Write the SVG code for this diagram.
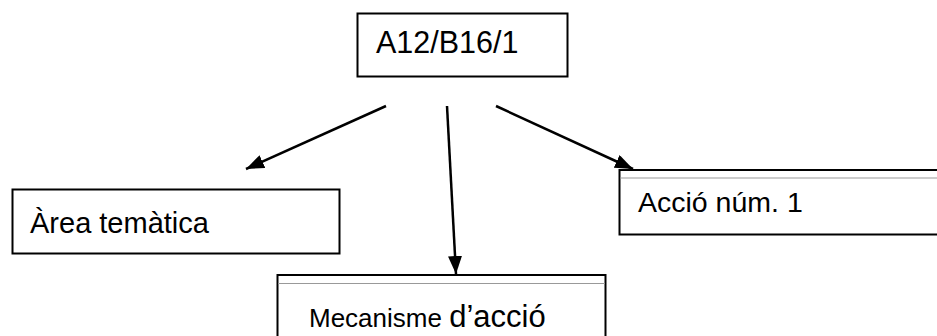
<svg xmlns="http://www.w3.org/2000/svg" width="937" height="336" viewBox="0 0 937 336">
<defs>
<style>
.box{fill:#fff;stroke:#000;stroke-width:2}
.t{font-family:"Liberation Sans",Arial,sans-serif;fill:#000}
.c{stroke:#000;stroke-width:2.5;fill:none}
.g{stroke:#999;stroke-width:1}
</style>
<marker id="ah" viewBox="0 0 18 14" refX="18" refY="7" markerWidth="18" markerHeight="14" markerUnits="userSpaceOnUse" orient="auto">
<path d="M0,0 L18,7 L0,14 Z" fill="#000"/>
</marker>
</defs>
<rect width="937" height="336" fill="#fff"/>
<g id="connectors">
<line class="c" x1="386" y1="106" x2="246" y2="169" marker-end="url(#ah)"/>
<line class="c" x1="447" y1="106" x2="456" y2="274" marker-end="url(#ah)"/>
<line class="c" x1="496" y1="106" x2="633" y2="169" marker-end="url(#ah)"/>
</g>
<g id="n_top">
<rect class="box" x="357.5" y="13.5" width="210" height="63" stroke-width="1.5"/>
<text class="t" x="376" y="53" font-size="30.5">A12/B16/1</text>
</g>
<g id="n_area">
<rect class="box" x="12.5" y="189.5" width="327" height="64"/>
<text class="t" x="30" y="233" font-size="29">Àrea temàtica</text>
</g>
<g id="n_accio">
<path class="box" d="M938,170 H619.5 V234.5 H938"/>
<line class="g" x1="620" y1="178" x2="937" y2="178"/>
<text class="t" x="638" y="212" font-size="28.5">Acció núm. 1</text>
</g>
<g id="n_mecanisme">
<path class="box" d="M605.5,337 V275 H277.5 V337"/>
<line class="g" x1="278" y1="283.5" x2="605" y2="283.5"/>
<text class="t" x="309" y="327"><tspan font-size="26">Mecanisme </tspan><tspan font-size="31">d’acció</tspan></text>
</g>
</svg>
